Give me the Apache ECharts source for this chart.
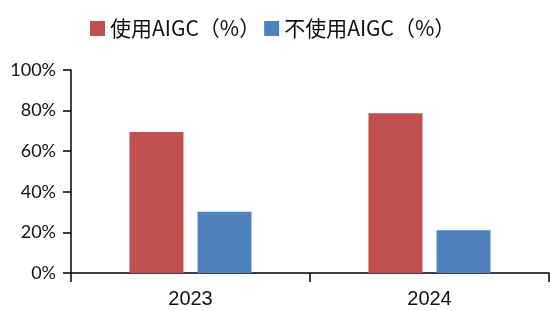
<!DOCTYPE html>
<html>
<head>
<meta charset="utf-8">
<script src="https://cdn.jsdelivr.net/npm/echarts@6/dist/echarts.min.js"></script>
<style>html,body{margin:0;padding:0;background:#fff;}#c{width:550px;height:311px;}</style>
</head>
<body>
<div id="c"></div>
<script>
var categories = ['2023', '2024'];
var seriesNames = ['使用AIGC（%）', '不使用AIGC（%）'];
var useAIGC = [69.4, 78.7];
var notUseAIGC = [30.2, 21.0];
var yTicks = [0, 20, 40, 60, 80, 100];

var chart = echarts.init(document.getElementById('c'), null, {renderer: 'canvas'});
chart.setOption({
  animation: false,
  backgroundColor: '#fff',
  legend: {
    top: 13,
    left: 85,
    itemWidth: 15,
    itemHeight: 15,
    itemGap: 4,
    icon: 'rect',
    textStyle: {fontFamily: 'Noto Sans CJK SC', fontSize: 21, color: '#111'},
    data: seriesNames
  },
  grid: {left: 71, right: 1, top: 70, bottom: 38, containLabel: false},
  xAxis: {
    type: 'category',
    data: categories,
    axisLine: {lineStyle: {color: '#000', width: 1.5}},
    axisTick: {show: true, length: 9, lineStyle: {color: '#000', width: 1.5}},
    axisLabel: {fontFamily: 'Liberation Sans', fontSize: 20, color: '#111', margin: 16}
  },
  yAxis: {
    type: 'value',
    min: 0, max: 100, interval: 20,
    axisLine: {show: true, lineStyle: {color: '#000', width: 1.5}},
    axisTick: {show: true, length: 8, lineStyle: {color: '#000', width: 1.5}},
    splitLine: {show: false},
    axisLabel: {fontFamily: 'Lato', fontSize: 18, color: '#111', margin: 15,
      formatter: function (v) { return yTicks.indexOf(v) >= 0 ? v + '%' : ''; }}
  },
  series: [
    {name: seriesNames[0], type: 'bar', data: useAIGC, barWidth: 54, barGap: '26%',
     itemStyle: {color: '#C0504D'}},
    {name: seriesNames[1], type: 'bar', data: notUseAIGC, barWidth: 54,
     itemStyle: {color: '#4F81BD'}}
  ]
});
</script>
</body>
</html>
